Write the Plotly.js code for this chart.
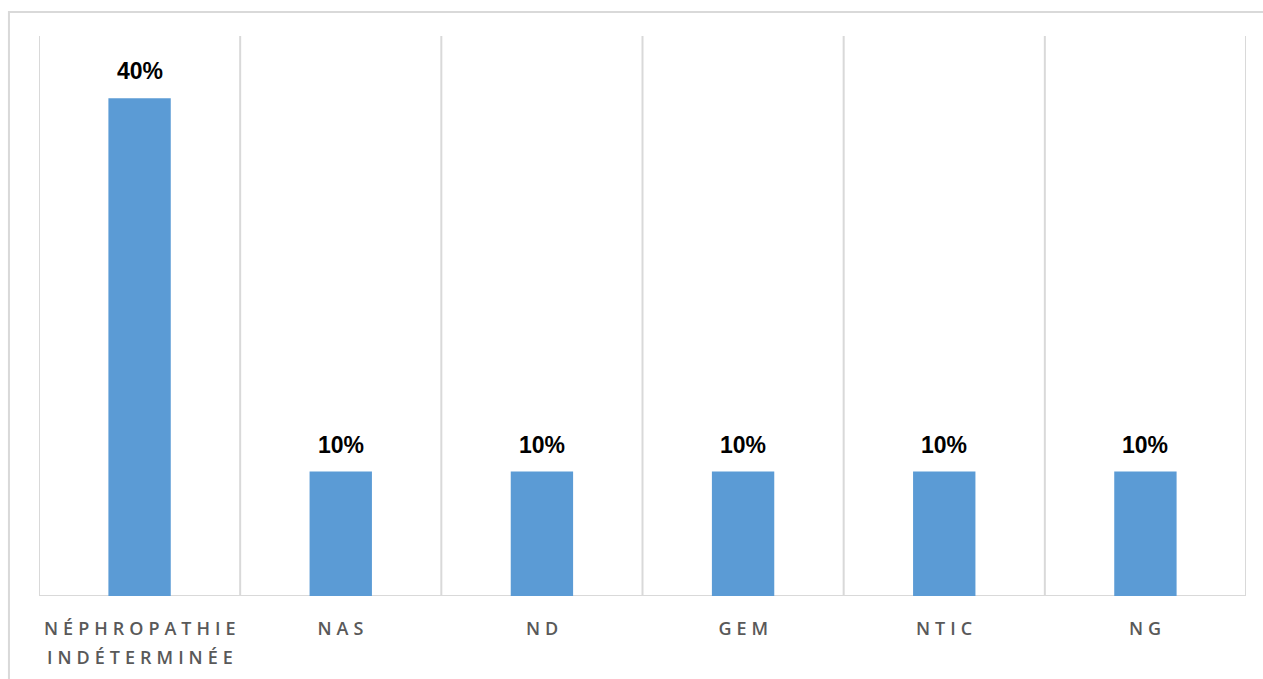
<!DOCTYPE html>
<html>
<head>
<meta charset="utf-8">
<script src="https://cdn.plot.ly/plotly-3.0.1.min.js"></script>
<style>
html,body{margin:0;padding:0;background:#fff;}
#chart{width:1263px;height:679px;}
.annotation-text.cat{letter-spacing:5px;}
</style>
</head>
<body>
<div id="chart"></div>
<script>
const categories = ['NÉPHROPATHIE<br>INDÉTERMINÉE', 'NAS', 'ND', 'GEM', 'NTIC', 'NG'];
const values = [40, 10, 10, 10, 10, 10];
const valueLabels = ['40%', '10%', '10%', '10%', '10%', '10%'];

const xs = categories.map((c, i) => i);

const trace = {
  type: 'bar',
  x: xs,
  y: values,
  width: 0.31,
  marker: {color: '#5B9BD5'},
  hoverinfo: 'skip'
};

const shapes = [];
for (let i = 0; i <= categories.length; i++) {
  shapes.push({type: 'line', xref: 'x', yref: 'paper', x0: i - 0.5, x1: i - 0.5, y0: 0, y1: 1,
    line: {color: '#d9d9d9', width: 2}, layer: 'below'});
}
shapes.push({type: 'line', xref: 'paper', yref: 'y', x0: 0, x1: 1, y0: 0, y1: 0,
  line: {color: '#d9d9d9', width: 2}, layer: 'below'});
// outer chart border
shapes.push({type: 'rect', xref: 'paper', yref: 'paper', x0: -0.0249, x1: 1.03, y0: -0.3, y1: 1.0429,
  line: {color: '#d9d9d9', width: 2}, fillcolor: 'rgba(0,0,0,0)', layer: 'below'});

const annotations = [];
// value labels
values.forEach((v, i) => {
  annotations.push({
    x: i, xref: 'x', y: v, yref: 'y', text: valueLabels[i], showarrow: false,
    xanchor: 'center', yanchor: 'middle', yshift: 27,
    font: {family: 'Liberation Sans, Arial, sans-serif', size: 23, color: '#000', weight: 'bold'}
  });
});
// category labels
categories.forEach((c, i) => {
  const lines = c.split('<br>');
  lines.forEach((ln, j) => {
    annotations.push({
      x: i, xref: 'x', y: -0.057 - j * 0.052, yref: 'paper',
      text: ln, showarrow: false, xanchor: 'center', yanchor: 'middle',
      font: {family: 'Open Sans, Liberation Sans, sans-serif', size: 18, color: '#595959', weight: 600},
      xshift: 2.5
    });
  });
});

const layout = {
  width: 1263, height: 679,
  margin: {l: 39, r: 17, t: 36, b: 83},
  paper_bgcolor: '#fff', plot_bgcolor: '#fff',
  showlegend: false,
  xaxis: {range: [-0.5, 5.5], showticklabels: false, showgrid: false, zeroline: false, showline: false, ticks: '', fixedrange: true},
  yaxis: {range: [0, 45], showticklabels: false, showgrid: false, zeroline: false, showline: false, ticks: '', fixedrange: true},
  shapes: shapes,
  annotations: annotations,
  bargap: 0.69
};

Plotly.newPlot('chart', [trace], layout, {displayModeBar: false, staticPlot: true}).then(() => {
  const all = document.querySelectorAll('.annotation-text');
  all.forEach((t, k) => { if (k >= values.length) t.classList.add('cat'); });
});
</script>
</body>
</html>
